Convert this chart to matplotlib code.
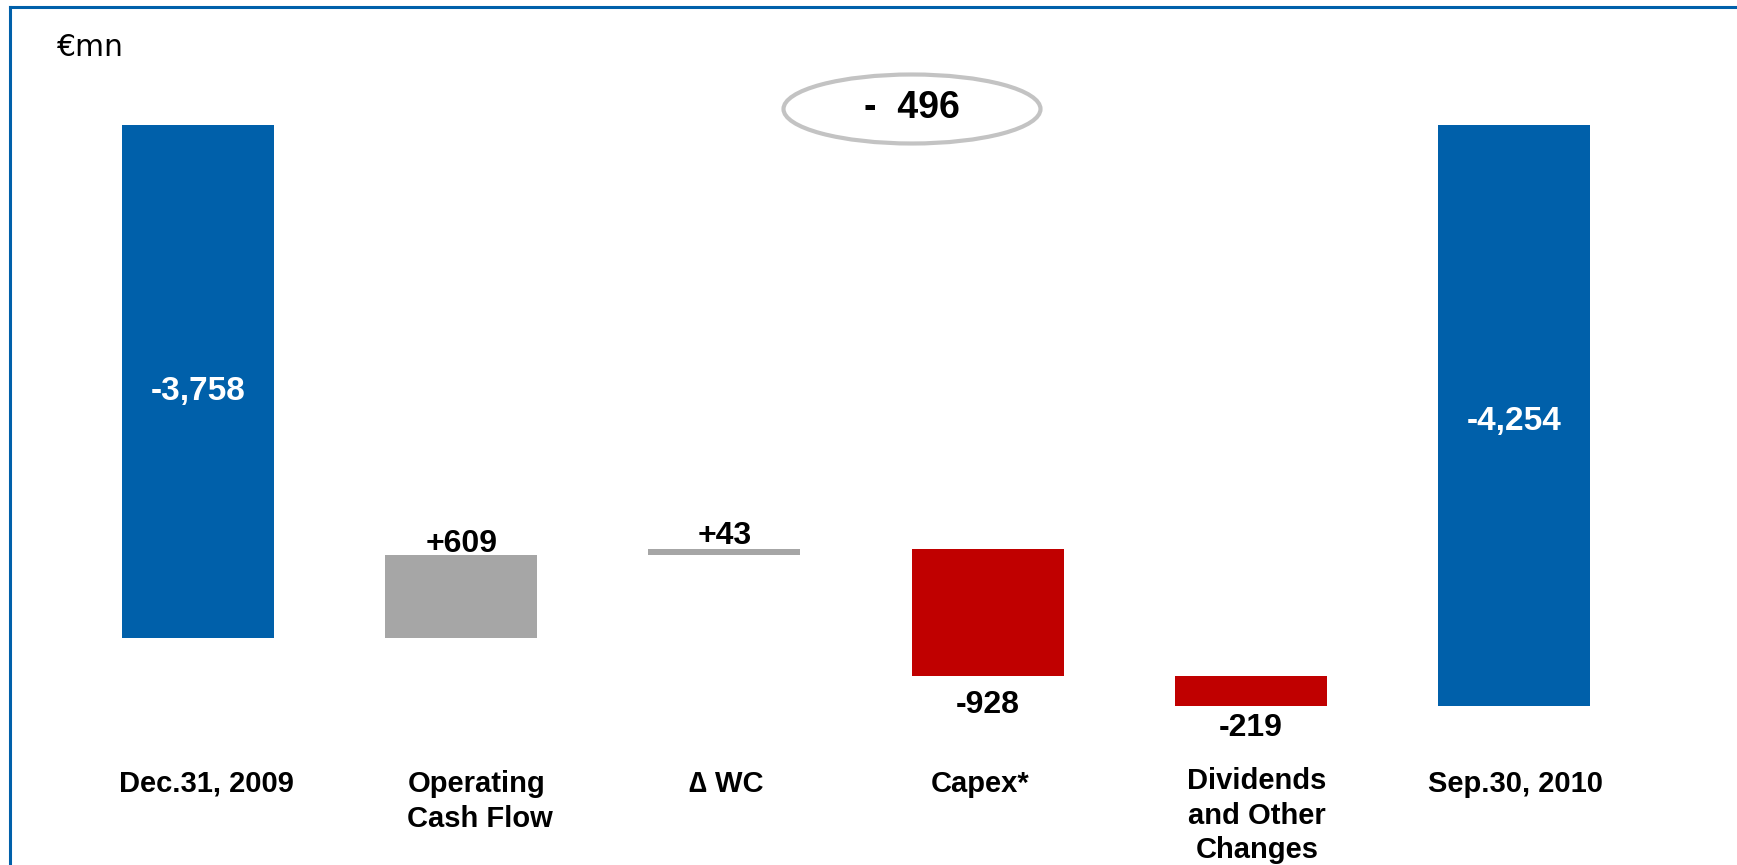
import matplotlib
matplotlib.use("Agg")
import matplotlib.pyplot as plt
from matplotlib.patches import Ellipse
from matplotlib.lines import Line2D
from matplotlib.transforms import blended_transform_factory, offset_copy

# Net debt bridge, EUR million
categories = ["Dec.31, 2009", "Operating\nCash Flow", "\u2206 WC", "Capex*",
              "Dividends\nand Other\nChanges", "Sep.30, 2010"]
start_value = -3758
changes = [609, 43, -928, -219]
end_value = -4254
value_labels = ["-3,758", "+609", "+43", "-928", "-219", "-4,254"]
net_change_label = "-  496"
unit_label = "\u20acmn"

BLUE = "#0060AA"
GREY = "#A6A6A6"
RED = "#C00000"
ELLIPSE_GREY = "#C3C3C3"

plt.rcParams["font.family"] = ["Liberation Sans", "DejaVu Sans"]

W, H, DPI = 1737, 865, 100
PT = 72 / DPI  # points per pixel
fig = plt.figure(figsize=(W / DPI, H / DPI), dpi=DPI)
ax = fig.add_axes([0, 0, 1, 1])

# pixel layout of the value axis: zero at 125 px from the top
px_per_unit = 0.1365
zero_px = 125
ax.set_ylim(-(H - zero_px) / px_per_unit, zero_px / px_per_unit)
# category slots
first_px, step_px = 198, 263.2
ax.set_xlim(-first_px / step_px, (W - first_px) / step_px)
ax.axis("off")

bar_w = 0.578
x = list(range(len(categories)))

# opening and closing balances (hang down from zero)
ax.bar(x[0], start_value, width=bar_w, bottom=0, color=BLUE)
ax.bar(x[-1], end_value, width=bar_w, bottom=0, color=BLUE)

# floating change bars
running = start_value
tops, bottoms = [], []
for i, d in enumerate(changes, start=1):
    color = GREY if d > 0 else RED
    ax.bar(x[i], d, width=bar_w, bottom=running, color=color)
    lo, hi = min(running, running + d), max(running, running + d)
    tops.append(hi)
    bottoms.append(lo)
    running += d

# balances labelled in white inside the bars
for idx, val, shift in [(0, start_value, 10), (-1, end_value, 6)]:
    ax.annotate(value_labels[idx], (x[idx], val / 2), xytext=(0, -shift * PT),
                textcoords="offset points", color="white", fontsize=24,
                fontweight="bold", ha="center", va="center")

# change labels: gains above, losses below
gaps_px = [3, 5, 14, 7.5]
for k, d in enumerate(changes):
    i = k + 1
    if d > 0:
        ax.annotate(value_labels[i], (x[i], tops[k]), xytext=(0, gaps_px[k] * PT),
                    textcoords="offset points", ha="center", va="baseline",
                    fontsize=23, fontweight="bold", color="black")
    else:
        ax.annotate(value_labels[i], (x[i], bottoms[k]), xytext=(0, -gaps_px[k] * PT),
                    textcoords="offset points", ha="center", va="top",
                    fontsize=23, fontweight="bold", color="black")

# category labels (text boxes nudged as laid out on the slide)
trans = blended_transform_factory(ax.transData, fig.transFigure)
label_dx = [8, 19, 2, -7, 6, 2]
label_dy = [0, 0, 0, 0, 3, 0]
label_align = ["center", "left", "center", "center", "center", "center"]
for i, c in enumerate(categories):
    t = offset_copy(trans, fig=fig, x=label_dx[i] * PT, y=label_dy[i] * PT,
                    units="points")
    ax.text(x[i], 1 - 770 / H, c, transform=t, ha="center", va="top",
            multialignment=label_align[i], fontsize=21, fontweight="bold",
            linespacing=1.3, color="black")

# net change bubble
ecx, ecy = 912 / W, 1 - 109 / H
ell = Ellipse((ecx, ecy), 257 / W, 69 / H, transform=fig.transFigure,
              facecolor="white", edgecolor=ELLIPSE_GREY, linewidth=3.0)
fig.patches.append(ell)
fig.text(ecx, ecy + 1 / H, net_change_label, ha="center", va="center",
         fontsize=27, fontweight="bold", color="black")

# unit
fig.text(57 / W, 1 - 47 / H, unit_label, ha="left", va="center",
         fontsize=21.5, color="black", family=["DejaVu Sans"])

# slide frame (top and left edges)
fig.lines.append(Line2D([10 / W, 1.0], [1 - 7 / H, 1 - 7 / H],
                        transform=fig.transFigure, color=BLUE, linewidth=2.2))
fig.lines.append(Line2D([10 / W, 10 / W], [0, 1 - 7 / H],
                        transform=fig.transFigure, color=BLUE, linewidth=2.2))

fig.savefig("out.png", dpi=DPI)
